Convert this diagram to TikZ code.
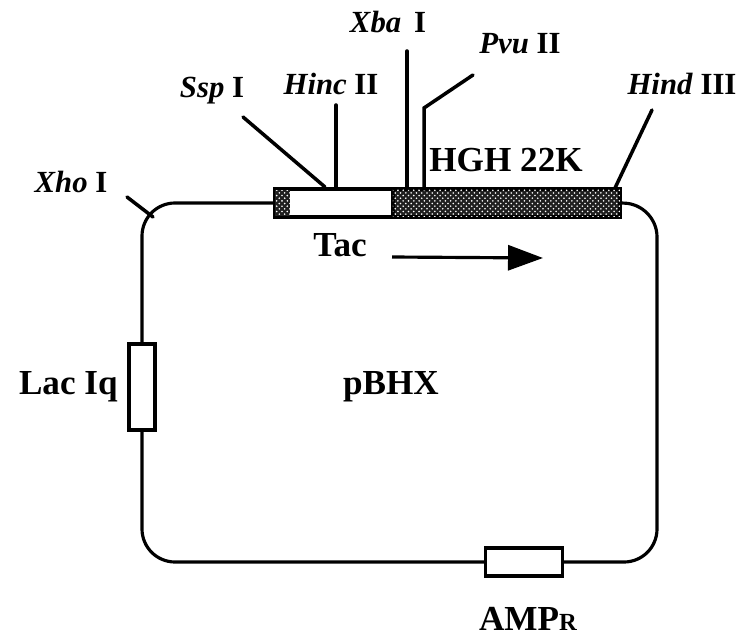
\documentclass[tikz,border=0pt]{standalone}
\usepackage{fontspec}
\setmainfont{Liberation Serif}
\usetikzlibrary{arrows.meta,positioning,patterns}
\definecolor{stipple}{rgb}{0.12,0.12,0.12}

\begin{document}
\begin{tikzpicture}[
      x=0.02cm, y=-0.02cm,
      part/.style={rectangle, draw=black, line width=2.1pt, inner sep=0pt, outer sep=0pt},
      gene/.style={part, minimum height=0.56cm},
      enzyme/.style={inner sep=0pt, font=\fontsize{17.5}{20}\selectfont\bfseries},
      tag/.style={inner sep=0pt, font=\fontsize{20}{24}\selectfont\bfseries},
      site/.style={line width=2pt, line cap=round},
      loop/.style={line width=1.8pt, rounded corners=0.66cm},
      flecks/.style={pattern=crosshatch dots, pattern color=white}
    ]
      \useasboundingbox (0,0) rectangle (742,641);

      % parts on the plasmid
      \node[gene, fill=white, minimum width=2.36cm] (tac) at (334,203) {};
      \node[gene, fill=stipple, postaction={flecks}, minimum width=4.54cm, right=0pt of tac] (hgh) {};
      \node[part, fill=white, minimum width=0.52cm, minimum height=1.72cm] (lac) at (142,387) {};
      \node[part, fill=white, minimum width=1.54cm, minimum height=0.56cm] (amp) at (524,562) {};
      \node[fill=stipple, postaction={flecks}, minimum width=0.3cm, minimum height=0.52cm, inner sep=0pt, right=0pt of tac.west] (tacmark) {};

      % backbone
      \coordinate (rightbend) at (657,204);
      \draw[loop] (tac.west) -| (lac.north);
      \draw[loop] (lac.south) |- (amp.west);
      \draw[loop] (amp.east) -| (rightbend) -- (hgh.east);

      % labels
      \node[enzyme] (xho) at (71,182) {\textit{Xho} I};
      \node[enzyme] (ssp) at (212,91) {\textit{Ssp} I};
      \node[enzyme] (hinc) at (331,84) {\textit{Hinc} II};
      \node[enzyme] (xba) at (388,22) {\textit{Xba}\, I};
      \node[enzyme] (pvu) at (520,44) {\textit{Pvu} II};
      \node[enzyme] (hind) at (682,84) {\textit{Hind} III};
      \node[tag] (hghlabel) at (506,160) {HGH 22K};
      \node[tag] (taclabel) at (340,245) {Tac};
      \node[tag] (pbhx) at (391,387) {pBHX};
      \node[tag, left=0.22cm of lac] (laclabel) {Lac Iq};
      \node[tag, below=0.62cm of amp, xshift=0.08cm] (amplabel) {AMP{\fontsize{14}{16}\selectfont R}};

      % cut sites
      \coordinate (xhotip) at (127,197);
      \coordinate (xhofoot) at (153,217);
      \coordinate (ssptip) at (243,117);
      \coordinate (sspfoot) at (325,187);
      \coordinate (hinctip) at (336,105);
      \coordinate (xbatip) at (407,51);
      \coordinate (pvutip) at (473,75);
      \coordinate (pvubend) at (424,108);
      \coordinate (hindtip) at (652,110);
      \coordinate (hindfoot) at (615,188);
      \draw[site] (xhotip) -- (xhofoot);
      \draw[site] (ssptip) -- (sspfoot);
      \draw[site] (hinctip) -- (hinctip |- tac.north);
      \draw[site] (xbatip) -- (xbatip |- hgh.north);
      \draw[site] (pvutip) -- (pvubend) -- (pvubend |- hgh.north);
      \draw[site] (hindtip) -- (hindfoot);

      % direction of transcription
      \coordinate (dirstart) at (392,257);
      \coordinate (dirend) at (543,258);
      \draw[line width=1.8pt, -{Triangle[length=0.7cm, width=0.5cm]}] (dirstart) -- (dirend);
    \end{tikzpicture}
\end{document}
